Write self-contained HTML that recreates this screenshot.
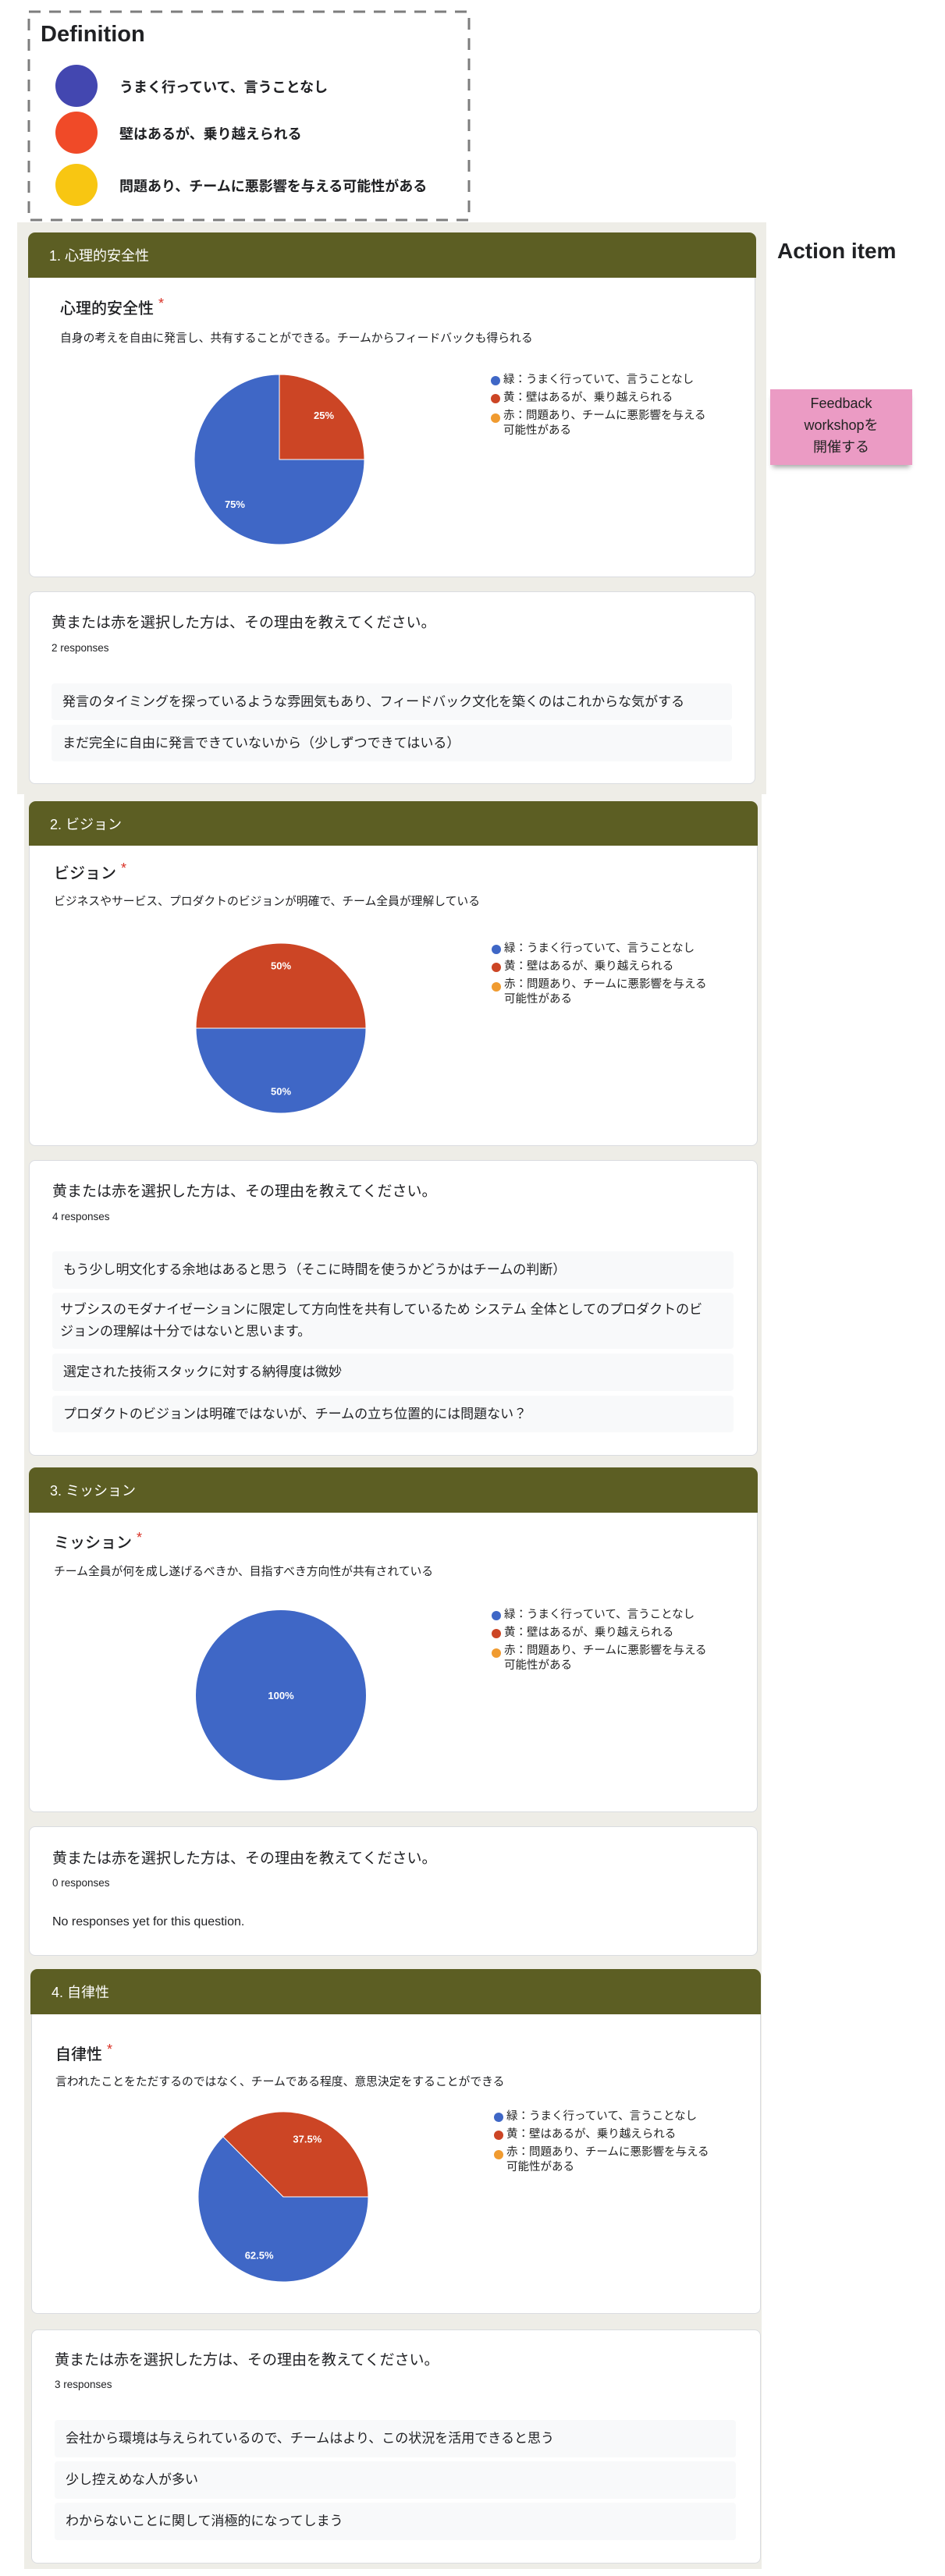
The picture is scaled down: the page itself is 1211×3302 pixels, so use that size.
<!DOCTYPE html>
<html><head><meta charset="utf-8">
<style>
*{box-sizing:border-box;margin:0;padding:0}
body{width:1211px;height:3302px;background:#fff;position:relative;overflow:hidden;font-family:"Liberation Sans","Noto Sans CJK JP",sans-serif;color:#202124}
.abs{position:absolute}
.panel{position:absolute;background:#eeede7}
.hdr{position:absolute;background:#5c5e23;border-radius:9px 9px 0 0;color:#fff;font-size:18px;padding-left:27px;display:flex;align-items:center}
.card{position:absolute;background:#fff;border:1px solid #dadce0;border-radius:8px}
.hdr+.card{border-radius:0 0 8px 8px;border-top:none}
.qt{position:absolute;font-size:20px;font-weight:500}
.qt .req{color:#d93025;font-size:18px;vertical-align:top;margin-left:6px}
.desc{position:absolute;font-size:14.8px;color:#202124;white-space:nowrap}
.rt{position:absolute;font-size:19px;white-space:nowrap}
.rc{position:absolute;font-size:13.5px;color:#202124}
.row{position:absolute;background:#f8f9fa;border-radius:4px;font-size:17px;padding-left:14px;display:flex;align-items:center;line-height:28px;white-space:nowrap}
.hl{background:#fff}
.legend{position:absolute;font-size:14.5px;line-height:23px;color:#222;white-space:nowrap}
.legend div{position:relative;padding-left:16px}
.legend span.dot{position:absolute;left:0;top:6px;width:12px;height:12px;border-radius:50%}
svg.pie{position:absolute;left:0;top:0}
</style></head><body>

<svg class="abs" style="left:0;top:0" width="620" height="290">
<rect x="37" y="15" width="564" height="267" fill="none" stroke="#7d7d7d" stroke-width="3" stroke-dasharray="15 11"/>
</svg>
<div class="abs" style="left:52px;top:28px;font-size:29px;font-weight:bold">Definition</div>
<div class="abs" style="left:71px;top:83px;width:54px;height:54px;border-radius:50%;background:#4347b0"></div>
<div class="abs" style="left:71px;top:143px;width:54px;height:54px;border-radius:50%;background:#f04a28"></div>
<div class="abs" style="left:71px;top:210px;width:54px;height:54px;border-radius:50%;background:#f8c612"></div>
<div class="abs" style="left:153px;top:98px;font-size:18px;font-weight:bold">うまく行っていて、言うことなし</div>
<div class="abs" style="left:153px;top:158px;font-size:18px;font-weight:bold">壁はあるが、乗り越えられる</div>
<div class="abs" style="left:153px;top:225px;font-size:18px;font-weight:bold">問題あり、チームに悪影響を与える可能性がある</div>

<div class="abs" style="left:996px;top:306px;font-size:28px;font-weight:bold">Action item</div>
<div class="abs" style="left:987px;top:499px;width:182px;height:97px;background:#eb9bc4;box-shadow:0 6px 6px -3px rgba(0,0,0,0.35);text-align:center;font-size:18px;line-height:28px;padding-top:4px;color:#222">Feedback<br>workshopを<br>開催する</div>

<div class="panel" style="left:22px;top:285px;width:960px;height:733px"></div>
<div class="panel" style="left:31px;top:1018px;width:945px;height:2275px"></div>

<!-- Section 1 -->
<div class="hdr" style="left:36px;top:298px;width:933px;height:58px">1. 心理的安全性</div>
<div class="card" style="left:37px;top:356px;width:931px;height:384px"></div>
<div class="qt" style="left:77px;top:379px">心理的安全性<span class="req">*</span></div>
<div class="desc" style="left:77px;top:422px">自身の考えを自由に発言し、共有することができる。チームからフィードバックも得られる</div>
<div class="legend" id="legend1" style="left:629px;top:476px"></div>
<div class="card" style="left:37px;top:758px;width:931px;height:247px"></div>
<div class="rt" style="left:66px;top:783px">黄または赤を選択した方は、その理由を教えてください。</div>
<div class="rc" style="left:66px;top:823px">2 responses</div>
<div class="row" style="left:66px;top:876px;width:872px;height:47px">発言のタイミングを探っているような雰囲気もあり、フィードバック文化を築くのはこれからな気がする</div>
<div class="row" style="left:66px;top:929px;width:872px;height:47px">まだ完全に自由に発言できていないから（少しずつできてはいる）</div>

<!-- Section 2 -->
<div class="hdr" style="left:37px;top:1027px;width:934px;height:57px">2. ビジョン</div>
<div class="card" style="left:37px;top:1084px;width:934px;height:385px"></div>
<div class="qt" style="left:69px;top:1103px">ビジョン<span class="req">*</span></div>
<div class="desc" style="left:69px;top:1144px">ビジネスやサービス、プロダクトのビジョンが明確で、チーム全員が理解している</div>
<div class="legend" id="legend2" style="left:630px;top:1205px"></div>
<div class="card" style="left:37px;top:1487px;width:934px;height:379px"></div>
<div class="rt" style="left:67px;top:1512px">黄または赤を選択した方は、その理由を教えてください。</div>
<div class="rc" style="left:67px;top:1552px">4 responses</div>
<div class="row" style="left:67px;top:1604px;width:873px;height:48px">もう少し明文化する余地はあると思う（そこに時間を使うかどうかはチームの判断）</div>
<div class="row" style="left:67px;top:1657px;width:873px;height:72px;padding-left:10px"><div><span class="hl">サブシス</span>のモダナイゼーションに限定して方向性を共有しているため <span class="hl">システム</span> 全体としてのプロダクトのビ<br>ジョンの理解は十分ではないと思います。</div></div>
<div class="row" style="left:67px;top:1735px;width:873px;height:48px">選定された技術スタックに対する納得度は微妙</div>
<div class="row" style="left:67px;top:1789px;width:873px;height:47px">プロダクトのビジョンは明確ではないが、チームの立ち位置的には問題ない？</div>

<!-- Section 3 -->
<div class="hdr" style="left:37px;top:1881px;width:934px;height:58px">3. ミッション</div>
<div class="card" style="left:37px;top:1939px;width:934px;height:384px"></div>
<div class="qt" style="left:69px;top:1961px">ミッション<span class="req">*</span></div>
<div class="desc" style="left:69px;top:2003px">チーム全員が何を成し遂げるべきか、目指すべき方向性が共有されている</div>
<div class="legend" id="legend3" style="left:630px;top:2059px"></div>
<div class="card" style="left:37px;top:2341px;width:934px;height:166px"></div>
<div class="rt" style="left:67px;top:2367px">黄または赤を選択した方は、その理由を教えてください。</div>
<div class="rc" style="left:67px;top:2406px">0 responses</div>
<div class="abs" style="left:67px;top:2455px;font-size:16px">No responses yet for this question.</div>

<!-- Section 4 -->
<div class="hdr" style="left:39px;top:2524px;width:936px;height:58px">4. 自律性</div>
<div class="card" style="left:40px;top:2582px;width:935px;height:384px"></div>
<div class="qt" style="left:71px;top:2617px">自律性<span class="req">*</span></div>
<div class="desc" style="left:71px;top:2657px">言われたことをただするのではなく、チームである程度、意思決定をすることができる</div>
<div class="legend" id="legend4" style="left:633px;top:2702px"></div>
<div class="card" style="left:40px;top:2986px;width:935px;height:300px"></div>
<div class="rt" style="left:70px;top:3010px">黄または赤を選択した方は、その理由を教えてください。</div>
<div class="rc" style="left:70px;top:3049px">3 responses</div>
<div class="row" style="left:70px;top:3102px;width:873px;height:48px">会社から環境は与えられているので、チームはより、この状況を活用できると思う</div>
<div class="row" style="left:70px;top:3155px;width:873px;height:48px">少し控えめな人が多い</div>
<div class="row" style="left:70px;top:3208px;width:873px;height:48px">わからないことに関して消極的になってしまう</div>

<svg class="pie" id="pies" width="1211" height="3302"></svg>

<script>
const categories = ['緑：うまく行っていて、言うことなし', '黄：壁はあるが、乗り越えられる', '赤：問題あり、チームに悪影響を与える可能性がある'];
const pie1Values = [75, 25, 0];
const pie2Values = [50, 50, 0];
const pie3Values = [100, 0, 0];
const pie4Values = [62.5, 37.5, 0];
const pieLabels1 = ['75%', '25%', ''];
const pieLabels2 = ['50%', '50%', ''];
const pieLabels3 = ['100%', '', ''];
const pieLabels4 = ['62.5%', '37.5%', ''];

const sliceColors = ['#3f67c6', '#cc4525', '#f09b30'];
const NS = 'http://www.w3.org/2000/svg';
const svg = document.getElementById('pies');

function angleScale(cum, total){ return (90 + cum / total * 360) * Math.PI / 180; }
function pt(cx, cy, r, a){ return [cx + r * Math.sin(a), cy - r * Math.cos(a)]; }

function drawPie(values, labels, cx, cy, r, idx){
  const total = values.reduce((s, v) => s + v, 0);
  let cum = 0;
  values.forEach((v, i) => {
    if (v <= 0) return;
    const a0 = angleScale(cum, total), a1 = angleScale(cum + v, total);
    let el;
    if (v >= total) {
      el = document.createElementNS(NS, 'circle');
      el.setAttribute('cx', cx); el.setAttribute('cy', cy); el.setAttribute('r', r);
    } else {
      const p0 = pt(cx, cy, r, a0), p1 = pt(cx, cy, r, a1);
      const large = (a1 - a0) > Math.PI ? 1 : 0;
      el = document.createElementNS(NS, 'path');
      el.setAttribute('d', `M${cx},${cy} L${p0[0]},${p0[1]} A${r},${r} 0 ${large} 1 ${p1[0]},${p1[1]} Z`);
      el.setAttribute('stroke', '#fff'); el.setAttribute('stroke-width', '1');
    }
    el.setAttribute('fill', sliceColors[i]);
    
    
    svg.appendChild(el);
    const mid = (a0 + a1) / 2;
    const lp = v >= total ? [cx, cy] : pt(cx, cy, r * 0.74, mid);
    const t = document.createElementNS(NS, 'text');
    t.setAttribute('x', lp[0]); t.setAttribute('y', lp[1] + 5);
    t.setAttribute('text-anchor', 'middle'); t.setAttribute('fill', '#fff');
    t.setAttribute('font-size', '13'); t.setAttribute('font-weight', 'bold');
    t.setAttribute('font-family', 'Liberation Sans, sans-serif');
    t.textContent = labels[i];
    
    
    svg.appendChild(t);
    cum += v;
  });
}

function drawLegend(id){
  const box = document.getElementById(id);
  categories.forEach((c, i) => {
    const d = document.createElement('div');
    
    
    if (i === 2) { d.innerHTML = '<span class="dot"></span>赤：問題あり、チームに悪影響を与える<br>可能性がある'; d.style.lineHeight = '19px'; d.style.marginTop = '2px'; }
    else { d.innerHTML = '<span class="dot"></span>' + c; }
    d.querySelector('.dot').style.background = sliceColors[i];
    box.appendChild(d);
  });
}

drawPie(pie1Values, pieLabels1, 358, 589, 109, 1);
drawPie(pie2Values, pieLabels2, 360, 1318, 109, 2);
drawPie(pie3Values, pieLabels3, 360, 2173, 109, 3);
drawPie(pie4Values, pieLabels4, 363, 2816, 109, 4);
['legend1','legend2','legend3','legend4'].forEach(drawLegend);
</script>
</body></html>
